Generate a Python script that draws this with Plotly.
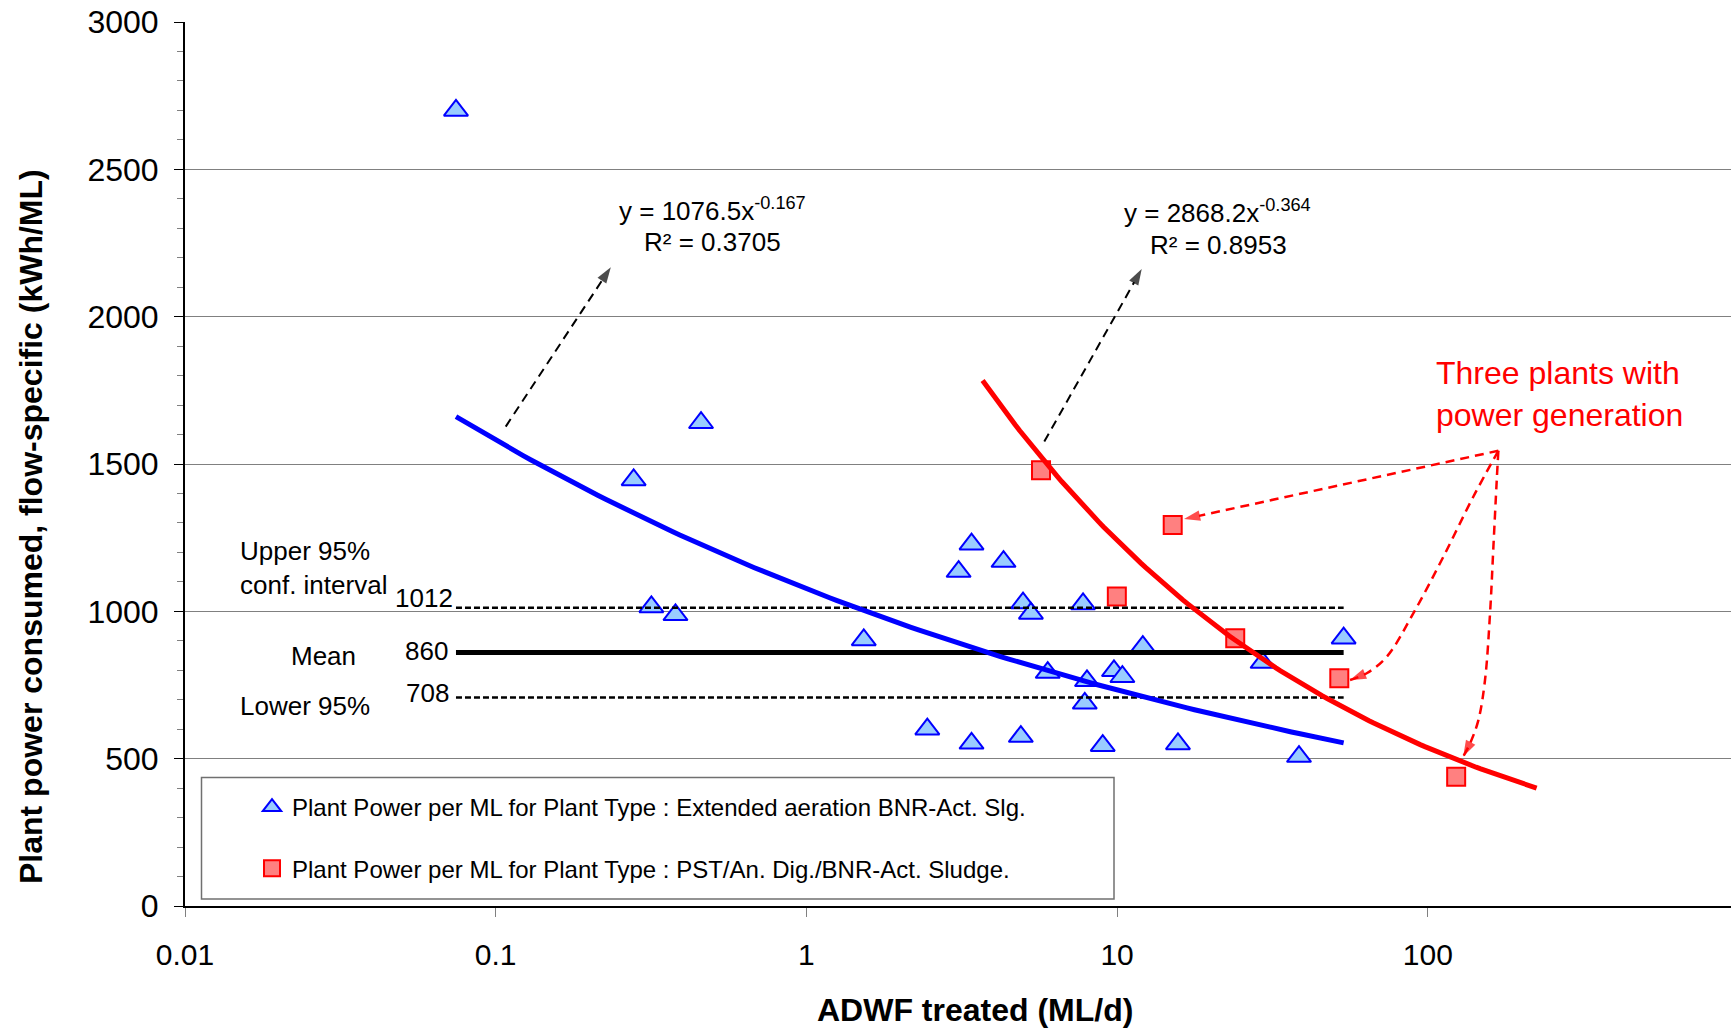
import numpy as np
import plotly.graph_objects as go

# ---------------- data ----------------
# Plant type: Extended aeration BNR-Act. Slg.  (blue triangles)
ext_x = [0.0745, 0.278, 0.458, 0.317, 0.379, 1.53, 2.45, 3.40, 3.09, 3.40,
         4.31, 4.90, 4.98, 5.28, 5.98, 7.77, 8.00, 7.87, 8.99, 9.77,
         10.4, 12.1, 15.7, 29.4, 38.5, 53.6]
ext_y = [2700, 1446, 1640, 1015, 988, 903, 600, 552, 1135, 1228,
         1169, 575, 1028, 993, 792, 1025, 764, 688, 544, 798,
         778, 880, 550, 826, 507, 909]

# Plant type: PST/An. Dig./BNR-Act. Sludge  (red squares)
pst_x = [5.69, 15.1, 9.98, 24.0, 51.9, 123.4]
pst_y = [1479, 1293, 1050, 909, 773, 439]

# power-law trendlines shown on the chart
ext_a, ext_b, ext_r2 = 1076.5, -0.167, 0.3705
pst_a, pst_b, pst_r2 = 2868.2, -0.364, 0.8953
pst_fit_from, pst_fit_to = 3.69, 224.0

# mean and 95% confidence interval
mean_val, upper_ci, lower_ci = 860, 1012, 708

# annotation arrow paths (data coordinates)
arr_ext_x, arr_ext_y = [0.1077, 0.2347], [1627, 2168]
arr_pst_x, arr_pst_y = [5.83, 12.0], [1576, 2162]
gen1_x, gen1_y = [168.7, 16.42], [1545, 1313]
gen2_x = [168.7, 140.1, 112.2, 89.8, 73.8, 63.6, 56.2]
gen2_y = [1545, 1389, 1185, 993, 846, 790, 767]
gen3_x = [168.7, 166.7, 162.6, 158.6, 152.8, 145.5, 136.8, 130.0]
gen3_y = [1545, 1446, 1219, 993, 767, 631, 552, 507]

x_ticks = [0.01, 0.1, 1, 10, 100]
x_tick_text = ["0.01", "0.1", "1", "10", "100"]

# ---------------- styling ----------------
FONT = "Liberation Sans, Arial, sans-serif"
BLUE, BLUE_FILL = "#0000FF", "#99CCFF"
RED, RED_FILL = "#FF0000", "#FF8080"

W, H = 1731, 1031
ML, MR, MT, MB = 185, 0, 22, 125
PW, PH = W - ML - MR, H - MT - MB


def px(xp):
    return (xp - ML) / PW


def py(yp):
    return (H - MB - yp) / PH


fig = go.Figure()

# scatter markers
fig.add_trace(go.Scatter(
    x=ext_x, y=ext_y, mode="markers",
    name="Plant Power per ML for Plant Type : Extended aeration BNR-Act. Slg.",
    legendgroup="a",
    marker=dict(symbol="triangle-up", size=21, color=BLUE_FILL,
                line=dict(color=BLUE, width=2)),
))
fig.add_trace(go.Scatter(
    x=pst_x, y=pst_y, mode="markers",
    name="Plant Power per ML for Plant Type : PST/An. Dig./BNR-Act. Sludge.",
    legendgroup="b",
    marker=dict(symbol="square", size=18, color=RED_FILL,
                line=dict(color=RED, width=2)),
))

# mean and CI lines over the data range
x_lo, x_hi = min(ext_x), max(ext_x)
for val, w, dash in [(upper_ci, 2.5, "6px,3px"), (lower_ci, 2.5, "6px,3px"),
                     (mean_val, 5, "solid")]:
    fig.add_trace(go.Scatter(x=[x_lo, x_hi], y=[val, val], mode="lines",
                             line=dict(color="black", width=w, dash=dash),
                             showlegend=False, hoverinfo="skip"))

# trendlines
tx = np.geomspace(x_lo, x_hi, 120)
fig.add_trace(go.Scatter(x=tx, y=ext_a * tx ** ext_b, mode="lines",
                         line=dict(color=BLUE, width=5), showlegend=False))
tr = np.geomspace(pst_fit_from, pst_fit_to, 120)
fig.add_trace(go.Scatter(x=tr, y=pst_a * tr ** pst_b, mode="lines",
                         line=dict(color=RED, width=5), showlegend=False))


def arrow(xs, ys, color, width, shape="linear"):
    n = len(xs)
    fig.add_trace(go.Scatter(
        x=xs, y=ys, mode="lines+markers",
        line=dict(color=color, width=width, dash="9px,6px", shape=shape),
        marker=dict(symbol="arrow", angleref="previous",
                    size=[0] * (n - 1) + [17], color=color,
                    line=dict(width=0)),
        showlegend=False, hoverinfo="skip"))


arrow(arr_ext_x, arr_ext_y, "black", 2)
arrow(arr_pst_x, arr_pst_y, "black", 2)
arrow(gen1_x, gen1_y, RED, 2.5)
arrow(gen2_x, gen2_y, RED, 2.5, "spline")
arrow(gen3_x, gen3_y, RED, 2.5, "spline")

# ---------------- annotations ----------------
ann = []


def text(t, xp, yp, size=26, color="black", xanchor="center", bold=False,
         angle=0, align="center"):
    ann.append(dict(text=("<b>%s</b>" % t) if bold else t,
                    x=px(xp), y=py(yp), xref="paper", yref="paper",
                    xanchor=xanchor, yanchor="middle", showarrow=False,
                    align=align, textangle=angle,
                    font=dict(family=FONT, size=size, color=color)))


text("Upper 95%<br>conf. interval", 238, 568, xanchor="left", align="left")
text("Mean", 323.5, 656)
text("Lower 95%", 238, 706, xanchor="left")

lx = np.log10(x_lo)
for val, t, xs, ys in [(upper_ci, "1012", -1, 10), (mean_val, "860", -6, 2),
                       (lower_ci, "708", -5, 4)]:
    ann.append(dict(text=t, x=lx, y=val, xref="x", yref="y", xanchor="right",
                    yanchor="middle", xshift=xs, yshift=ys, showarrow=False,
                    font=dict(family=FONT, size=26, color="black")))

text("y = %.1fx<sup>%.3f</sup>" % (ext_a, ext_b), 712, 209)
text("R² = %.4f" % ext_r2, 712, 242)
text("y = %.1fx<sup>%.3f</sup>" % (pst_a, pst_b), 1217.5, 211)
text("R² = %.4f" % pst_r2, 1218, 245)
text("Three plants with<br>power generation", 1434, 394, size=32, color=RED,
     xanchor="left", align="left")

text("Plant power consumed, flow-specific (kWh/ML)", 31, 527, size=32,
     bold=True, angle=-90)
text("ADWF treated (ML/d)", 975, 1010, size=32, bold=True)

fig.update_layout(
    width=W, height=H,
    margin=dict(l=ML, r=MR, t=MT, b=MB, pad=0),
    paper_bgcolor="white", plot_bgcolor="white",
    font=dict(family=FONT, size=26, color="black"),
    annotations=ann,
    showlegend=True,
    legend=dict(x=px(252), y=py(785), xanchor="left", yanchor="top",
                bgcolor="rgba(0,0,0,0)", borderwidth=0, tracegroupgap=27,
                font=dict(family=FONT, size=24, color="black")),
    shapes=[dict(type="rect", xref="paper", yref="paper",
                 x0=px(201.5), x1=px(1114), y0=py(899), y1=py(777.5),
                 line=dict(color="#707070", width=1.5), layer="above")],
)

fig.update_xaxes(
    type="log", range=[-2, -2 + (W - ML - MR) / 310.7],
    tickvals=x_ticks, ticktext=x_tick_text,
    showgrid=False, zeroline=False, showline=True, linecolor="black",
    linewidth=2, ticks="outside", ticklen=9, tickcolor="#808080",
    tickfont=dict(family=FONT, size=30, color="black"),
    ticklabelstandoff=12,
)
fig.update_yaxes(
    range=[0, 3000], dtick=500, tick0=0,
    showgrid=True, gridcolor="#808080", gridwidth=1, zeroline=False,
    showline=True, linecolor="black", linewidth=2,
    ticks="outside", ticklen=9, tickcolor="black",
    minor=dict(ticks="outside", dtick=100, ticklen=6, tickcolor="#808080",
               showgrid=False),
    tickfont=dict(family=FONT, size=32, color="black"),
    ticklabelstandoff=9,
)

fig.write_html("out.html")
